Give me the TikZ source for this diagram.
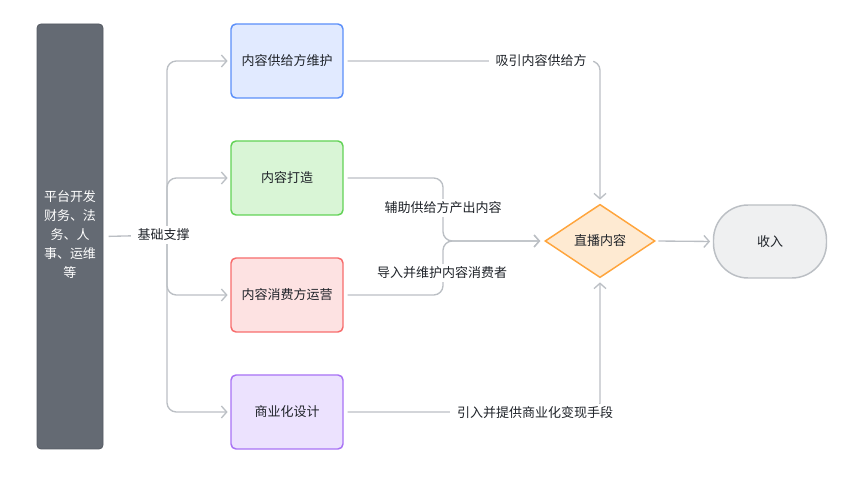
\documentclass[tikz,border=0pt]{standalone}
\usepackage{fontspec}
\setmainfont{Noto Sans CJK SC}
\usetikzlibrary{arrows.meta,shapes.geometric}
\definecolor{conn}{HTML}{BBBFC4}
\definecolor{txt}{HTML}{1F2329}
\definecolor{barfill}{HTML}{646A73}
\definecolor{bAd}{HTML}{5B8FF9}\definecolor{bAf}{HTML}{E1EAFF}
\definecolor{bBd}{HTML}{62D256}\definecolor{bBf}{HTML}{D9F5D6}
\definecolor{bCd}{HTML}{F76C6C}\definecolor{bCf}{HTML}{FDE2E2}
\definecolor{bDd}{HTML}{A872F5}\definecolor{bDf}{HTML}{ECE2FE}
\definecolor{dmd}{HTML}{FFA53D}\definecolor{dmf}{HTML}{FEEAD2}
\definecolor{stf}{HTML}{EFF0F1}
\tikzset{
  every node/.style={font=\fontsize{9.75pt}{12pt}\selectfont, text=txt},
  procbox/.style={draw, line width=1.1pt, rounded corners=3.75pt, minimum width=84pt, minimum height=55.5pt, inner sep=0pt},
  connline/.style={draw=conn, line width=1pt, rounded corners=7pt},
  connarrow/.style={connline, -{Straight Barb[length=4pt,width=9pt,line width=1pt]}},
  lbl/.style={fill=white, inner xsep=5pt, inner ysep=2pt}
}
\begin{document}
\begin{tikzpicture}[x=0.75pt,y=-0.75pt]
\useasboundingbox (0,0) rectangle (858,477);
% left bar
\node[fill=barfill, draw=barfill!85!black, line width=0.6pt, rounded corners=3pt, minimum width=49.5pt, minimum height=318.75pt, inner sep=0pt] (bar) at (70,236.5) {};
\node[text=white, align=center, font=\fontsize{9.75pt}{14.25pt}\selectfont] (bartext) at (70,235) {平台开发\\财务、法\\务、人\\事、运维\\等};
% boxes
\node[procbox, draw=bAd, fill=bAf] (b1) at (287,61) {内容供给方维护};
\node[procbox, draw=bBd, fill=bBf] (b2) at (287,178) {内容打造};
\node[procbox, draw=bCd, fill=bCf] (b3) at (287,295) {内容消费方运营};
\node[procbox, draw=bDd, fill=bDf] (b4) at (287,412) {商业化设计};
% diamond
\node[diamond, draw=dmd, fill=dmf, line width=1.1pt, inner sep=0pt, aspect=1.5, minimum width=82.5pt, minimum height=55pt] (dia) at (600,241) {直播内容};
% stadium
\node[draw=conn, fill=stf, line width=1.1pt, rounded corners=26pt, minimum width=84.75pt, minimum height=54.75pt, inner sep=0pt] (inc) at (770,241.5) {收入};
% junctions
\coordinate (jn) at (167,235);
\coordinate (jn2) at (443,241);
% left tree
\draw[connline, shorten <=4pt] (bar.east) -- (jn);
\draw[connarrow, shorten >=2pt] (jn) |- (b1.west);
\draw[connarrow, shorten >=2pt] (jn) |- (b2.west);
\draw[connarrow, shorten >=2pt] (jn) |- (b3.west);
\draw[connarrow, shorten >=2pt] (jn) |- (b4.west);
\node[lbl] (lbase) at (163.5,235) {基础支撑};
% right connectors
\draw[connarrow, shorten <=3pt, shorten >=3pt] (b1.east) -| (dia.north);
\draw[connarrow, shorten <=3pt, shorten >=3pt] (b2.east) -| (jn2) -- (dia.west);
\draw[connarrow, shorten <=3pt, shorten >=3pt] (b3.east) -| (jn2) -- (dia.west);
\draw[connarrow, shorten <=3pt, shorten >=3pt] (b4.east) -| (dia.south);
\draw[connarrow, shorten <=2pt, shorten >=2pt] (dia.east) -- (inc.west);
\node[lbl] (l1) at (541,61) {吸引内容供给方};
\node[lbl] (l2) at (443,208) {辅助供给方产出内容};
\node[lbl] (l3) at (442,273) {导入并维护内容消费者};
\node[lbl] (l4) at (535,413) {引入并提供商业化变现手段};
\end{tikzpicture}
\end{document}
